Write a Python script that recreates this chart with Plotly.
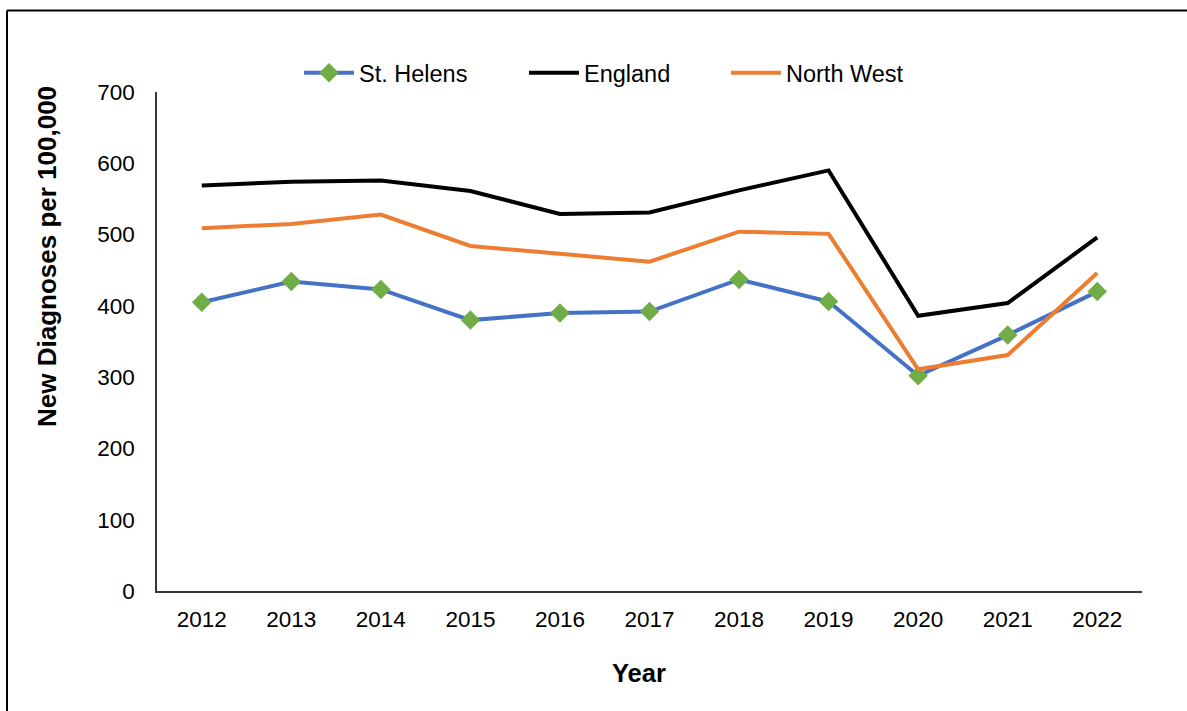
import plotly.graph_objects as go

# Annual new diagnosis rates per 100,000 population
years = ["2012", "2013", "2014", "2015", "2016", "2017", "2018", "2019", "2020", "2021", "2022"]
st_helens = [405, 434, 423, 380, 390, 392, 437, 406, 302, 359, 420]
england = [569, 574, 576, 561, 529, 531, 562, 590, 386, 404, 496]
north_west = [509, 515, 528, 484, 473, 462, 504, 501, 311, 331, 446]

y_ticks = [0, 100, 200, 300, 400, 500, 600, 700]

W, H = 1187, 711
L, R, T, B = 157, 45, 92, 120
PW, PH = W - L - R, H - T - B

FONT = "Liberation Sans, Arial, sans-serif"


def px_x(px):
    return (px - L) / PW


def px_y(py):
    return (H - B - py) / PH


fig = go.Figure()

fig.add_trace(go.Scatter(
    x=years, y=st_helens, name="St. Helens", mode="lines+markers",
    line=dict(color="#4472C4", width=4),
    marker=dict(symbol="diamond", size=15, color="#70AD47"),
    legend="legend",
))
fig.add_trace(go.Scatter(
    x=years, y=england, name="England", mode="lines",
    line=dict(color="#000000", width=4),
    legend="legend2",
))
fig.add_trace(go.Scatter(
    x=years, y=north_west, name="North West", mode="lines",
    line=dict(color="#ED7D31", width=4),
    legend="legend3",
))


def legend_box(left_px):
    return dict(
        orientation="h", x=px_x(left_px), y=px_y(73), xanchor="left", yanchor="middle",
        font=dict(family=FONT, size=23.5, color="#000000"),
        itemwidth=50, bgcolor="rgba(0,0,0,0)",
    )


fig.update_layout(
    width=W, height=H,
    margin=dict(l=L, r=R, t=T, b=B, pad=0),
    paper_bgcolor="white", plot_bgcolor="white",
    font=dict(family=FONT, size=22.5, color="#000000"),
    showlegend=True,
    legend=legend_box(299),
    legend2=legend_box(524),
    legend3=legend_box(726),
    xaxis=dict(
        type="category", range=[-0.5, 10.5],
        showline=True, linecolor="#3a3a3a", linewidth=2,
        ticks="", showgrid=False, zeroline=False,
        tickfont=dict(family=FONT, size=22.5), ticklabelstandoff=7,
        fixedrange=True,
    ),
    yaxis=dict(
        range=[0, 700], tickvals=y_ticks,
        showline=True, linecolor="#3a3a3a", linewidth=1.5,
        ticks="", showgrid=False, zeroline=False,
        tickfont=dict(family=FONT, size=22.5), ticklabelstandoff=16,
        fixedrange=True,
    ),
    annotations=[
        dict(text="<b>Year</b>", xref="paper", yref="paper",
             x=px_x(639), y=px_y(673), xanchor="center", yanchor="middle",
             showarrow=False, font=dict(family=FONT, size=25.5, color="#000000")),
        dict(text="<b>New Diagnoses per 100,000</b>", xref="paper", yref="paper",
             x=px_x(47), y=px_y(257), xanchor="center", yanchor="middle",
             textangle=-90, showarrow=False,
             font=dict(family=FONT, size=26, color="#000000")),
    ],
    shapes=[
        # outer frame of the chart area
        dict(type="line", xref="paper", yref="paper",
             x0=px_x(7), x1=px_x(1200), y0=px_y(10.5), y1=px_y(10.5),
             line=dict(color="#000000", width=2)),
        dict(type="line", xref="paper", yref="paper",
             x0=px_x(7), x1=px_x(7), y0=px_y(10.5), y1=px_y(720),
             line=dict(color="#000000", width=2)),
    ],
)

fig.write_html("out.html")
